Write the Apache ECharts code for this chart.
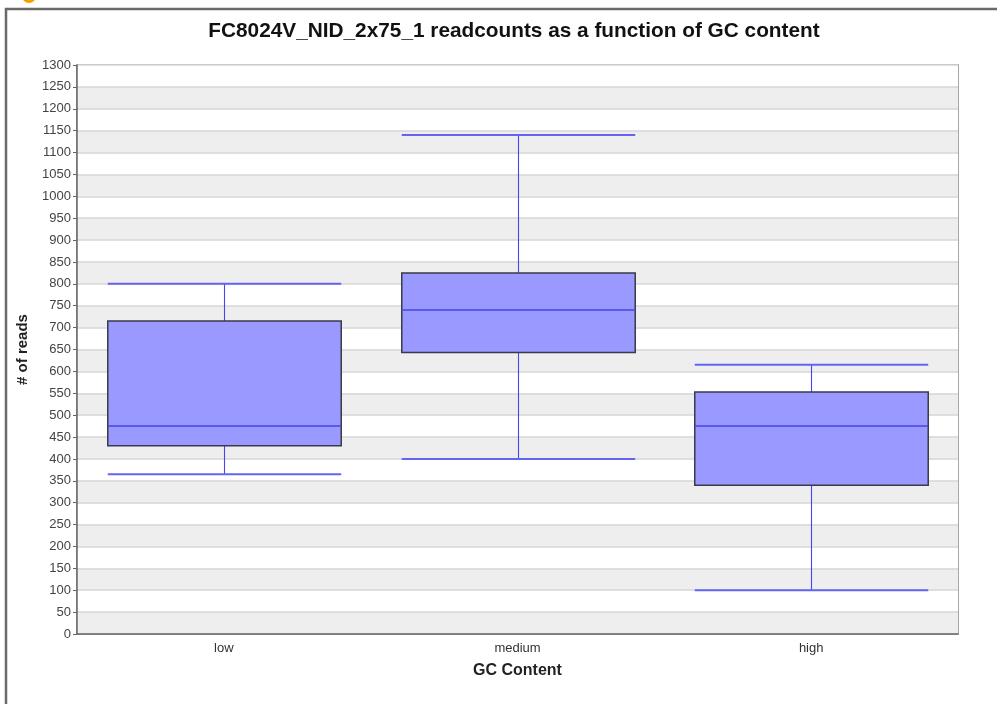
<!DOCTYPE html>
<html>
<head>
<meta charset="utf-8">
<script src="https://cdn.jsdelivr.net/npm/echarts@6/dist/echarts.min.js"></script>
<style>
  html, body { margin: 0; padding: 0; background: #ffffff; }
  #chart { width: 997px; height: 704px; }
</style>
</head>
<body>
<div id="chart"></div>
<script>
// GC content groups and their read-count distributions
const categories = ['low', 'medium', 'high'];
const minValues    = [365, 400, 100];
const q1Values     = [430, 643, 340];
const medianValues = [475, 740, 475];
const q3Values     = [715, 825, 553];
const maxValues    = [800, 1140, 615];

const titleText = 'FC8024V_NID_2x75_1 readcounts as a function of GC content';

const boxData = categories.map((c, i) =>
  [i, minValues[i], q1Values[i], medianValues[i], q3Values[i], maxValues[i]]);

const BOX_RATIO = 0.795;

function renderBox(params, api) {
  const i = api.value(0);
  const pMin = api.coord([i, api.value(1)]);
  const pQ1 = api.coord([i, api.value(2)]);
  const pMed = api.coord([i, api.value(3)]);
  const pQ3 = api.coord([i, api.value(4)]);
  const pMax = api.coord([i, api.value(5)]);
  const half = api.size([1, 0])[0] * BOX_RATIO / 2;
  // snap the whisker stem to the pixel grid so it stays crisp
  const cx = Math.round(pMed[0]) + 0.5;
  const whisker = { stroke: '#4545f2', lineWidth: 1.1 };
  const cap = { stroke: '#6464f2', lineWidth: 2 };
  return {
    type: 'group',
    children: [
      { type: 'line', shape: { x1: cx, y1: pMax[1], x2: cx, y2: pQ3[1] }, style: whisker },
      { type: 'line', shape: { x1: cx, y1: pQ1[1], x2: cx, y2: pMin[1] }, style: whisker },
      { type: 'line', shape: { x1: cx - half, y1: pMax[1], x2: cx + half, y2: pMax[1] }, style: cap },
      { type: 'line', shape: { x1: cx - half, y1: pMin[1], x2: cx + half, y2: pMin[1] }, style: cap },
      { type: 'rect', shape: { x: cx - half, y: pQ3[1], width: half * 2, height: pQ1[1] - pQ3[1] },
        style: { fill: '#9999ff', stroke: '#3a3a4a', lineWidth: 1.5 } },
      { type: 'line', shape: { x1: cx - half, y1: pMed[1], x2: cx + half, y2: pMed[1] },
        style: { stroke: '#4646e0', lineWidth: 1.5 } }
    ]
  };
}

const chart = echarts.init(document.getElementById('chart'), null, { renderer: 'canvas' });
chart.setOption({
  backgroundColor: '#ffffff',
  animation: false,
  graphic: [
    { type: 'rect', z: -10, silent: true,
      shape: { x: 6, y: 9, width: 1000, height: 800 },
      style: { fill: '#ffffff', stroke: '#6a6a6a', lineWidth: 2.5 } },
    { type: 'circle', z: -5, silent: true,
      shape: { cx: 29, cy: -4, r: 7 },
      style: { fill: '#f5a000' } }
  ],
  title: {
    text: titleText,
    left: 509, top: 16, textAlign: 'center',
    textStyle: { fontFamily: 'Liberation Sans', fontSize: 20.8, fontWeight: 'bold', color: '#111' }
  },
  grid: {
    left: 77, top: 65, right: 39, bottom: 70,
    show: true, borderColor: '#8a8a8a', borderWidth: 1.5, backgroundColor: 'transparent'
  },
  xAxis: {
    type: 'category',
    data: categories,
    name: 'GC Content',
    nameLocation: 'middle',
    nameGap: 29,
    nameTextStyle: { fontFamily: 'Liberation Sans', fontSize: 16, fontWeight: 'bold', color: '#222' },
    axisLine: { lineStyle: { color: '#666', width: 1.5 } },
    axisTick: { alignWithLabel: true, length: 3, lineStyle: { color: '#777' } },
    axisLabel: { fontFamily: 'Liberation Sans', fontSize: 13, color: '#333', margin: 8 },
    splitLine: { show: false }
  },
  yAxis: {
    type: 'value',
    min: 0, max: 1300, interval: 50,
    name: '# of reads',
    nameLocation: 'middle',
    nameGap: 47,
    nameTextStyle: { fontFamily: 'Liberation Sans', fontSize: 15, fontWeight: 'bold', color: '#222' },
    axisLine: { show: true, lineStyle: { color: '#666', width: 1.5 } },
    axisTick: { show: true, length: 4, lineStyle: { color: '#666' } },
    axisLabel: { fontFamily: 'Liberation Sans', fontSize: 13, color: '#444', margin: 6,
                 formatter: v => String(v) },
    splitLine: { show: true, lineStyle: { color: '#d6d6d6', width: 1.5 } },
    splitArea: { show: true, areaStyle: { color: ['#eeeeee', '#ffffff'] } }
  },
  series: [{
    type: 'custom',
    renderItem: renderBox,
    encode: { x: 0, y: [1, 2, 3, 4, 5] },
    data: boxData,
    z: 5
  }]
});
</script>
</body>
</html>
